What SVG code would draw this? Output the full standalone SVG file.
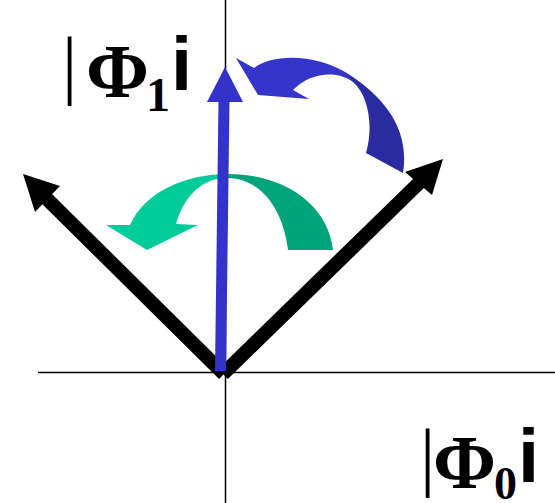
<svg xmlns="http://www.w3.org/2000/svg" width="555" height="503" viewBox="0 0 555 503">
<defs>
<style>
.axis{stroke:#000;stroke-width:1.5;fill:none}
.blk{stroke:#000;stroke-width:14;fill:none}
.lbl{font-family:"Liberation Serif",serif;font-weight:bold}
.bar{font-family:"Liberation Serif",serif;font-weight:normal}
.ang{font-family:"Liberation Sans",sans-serif;font-weight:bold}
</style>
<linearGradient id="gg" gradientUnits="userSpaceOnUse" x1="100" y1="0" x2="340" y2="0">
<stop offset="0" stop-color="#00cc99"/><stop offset="0.5125" stop-color="#00cc99"/>
<stop offset="0.5125" stop-color="#00a47b"/><stop offset="1" stop-color="#00a47b"/>
</linearGradient>
<linearGradient id="bg" gradientUnits="userSpaceOnUse" x1="230" y1="0" x2="410" y2="0">
<stop offset="0" stop-color="#3535cc"/><stop offset="0.67" stop-color="#3535cc"/>
<stop offset="0.67" stop-color="#2b2ba0"/><stop offset="1" stop-color="#2b2ba0"/>
</linearGradient>
</defs>
<g id="axes">
<line class="axis" x1="225.5" y1="0" x2="225.5" y2="503"/>
<line class="axis" x1="38" y1="372.5" x2="555" y2="372.5"/>
</g>
<g id="connectors">
<g id="black-left">
<line class="blk" x1="224" y1="374" x2="46" y2="198"/>
<polygon points="23,174 60,186 35,212" fill="#000"/>
</g>
<g id="black-right">
<line class="blk" x1="223" y1="374" x2="420" y2="182"/>
<polygon points="443,159 405,172 432,195" fill="#000"/>
</g>
<g id="green-curve">
<path d="M147,250 L106,225 L130,225 C145,192 185,174 228,174 C285,174 328,205 333,250 L288,250 C283,208 260,178 227,178 C202,178 184,196 176,224 L198,225 Z" fill="url(#gg)"/>
</g>
<g id="blue-vertical">
<line x1="220.5" y1="371" x2="224" y2="100" stroke="#3333cc" stroke-width="11"/>
<polygon points="225,67 207,102 243,102" fill="#3333cc"/>
</g>
<g id="blue-curve">
<path d="M236,58 L254,68 C275,52 320,55 350,75 C385,98 410,130 403,173 L366,153 C374,125 368,95 353,82 C338,70 310,72 293,90 L309,99 L258,95 Z" fill="url(#bg)"/>
</g>
</g>
<g id="label-phi1">
<text class="bar" x="62" y="90" font-size="76">|</text>
<text class="lbl" x="86" y="97" font-size="76">Φ</text>
<text class="lbl" x="146" y="111" font-size="48">1</text>
<text class="ang" x="171" y="90" font-size="76">i</text>
</g>
<g id="label-phi0">
<text class="bar" x="420" y="482" font-size="76">|</text>
<text class="lbl" x="433" y="488" font-size="76">Φ</text>
<text class="lbl" x="494" y="499" font-size="46">0</text>
<text class="ang" x="518" y="482" font-size="76">i</text>
</g>
</svg>
